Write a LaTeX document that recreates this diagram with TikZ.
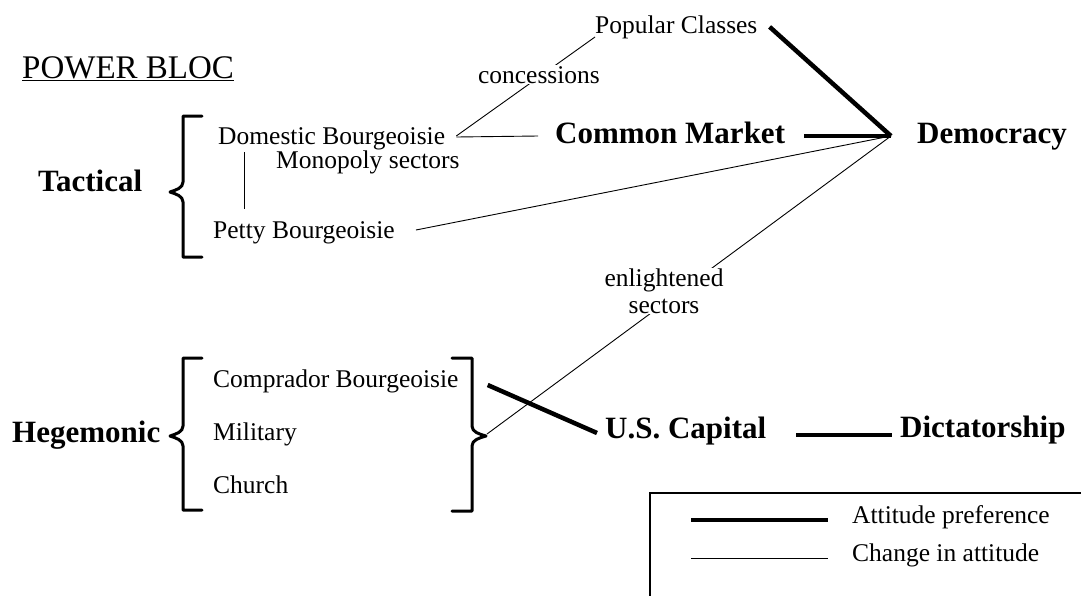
\documentclass[tikz,border=0pt]{standalone}
\usepackage{fontspec}
\setmainfont{Liberation Serif}
\begin{document}
\begin{tikzpicture}[x=1pt,y=-1pt,
  lbl/.style={font=\fontsize{25.5}{28}\selectfont, inner sep=0pt, anchor=base west},
  big/.style={font=\fontsize{31}{33}\selectfont\bfseries, inner sep=0pt, anchor=base west},
  onlabel/.style={font=\fontsize{25.5}{28}\selectfont, fill=white, inner sep=1pt, align=center},
  thickline/.style={line width=4.5pt},
  thinline/.style={line width=0.9pt},
  bracestyle/.style={line width=3pt, line cap=round, line join=round}]
\useasboundingbox (0,0) rectangle (1081,595);

% titles and labels
\node[font=\fontsize{33}{35}\selectfont, inner sep=0pt, anchor=base west] (title) at (22,78) {\underline{POWER BLOC}};
\node[big] (tac) at (38,191) {Tactical};
\node[big] (heg) at (12,442) {Hegemonic};

\node[lbl] (pc) at (595,33) {Popular Classes};
\node[lbl] (db) at (218,144) {Domestic Bourgeoisie};
\node[lbl] (mono) at (276,168) {Monopoly sectors};
\node[lbl] (pb) at (213,238) {Petty Bourgeoisie};
\node[lbl] (comp) at (213,387) {Comprador Bourgeoisie};
\node[lbl] (mil) at (213,440) {Military};
\node[lbl] (chu) at (213,493) {Church};

\node[big] (cm) at (555,143) {Common Market};
\node[big] (dem) at (917,143) {Democracy};
\node[big] (usc) at (605,438) {U.S. Capital};
\node[big] (dict) at (900,437) {Dictatorship};

\coordinate (hub) at (891,136);
\coordinate (htip) at (487,434);

% braces
\draw[bracestyle] (202,116) -- (183,116) -- (183,182) .. controls (183,188) and (176,190) .. (170,192)
  .. controls (176,194) and (183,196) .. (183,202) -- (183,257) -- (202,257);
\draw[bracestyle] (202,358) -- (183,358) -- (183,426) .. controls (183,432) and (176,434) .. (170,436)
  .. controls (176,438) and (183,440) .. (183,446) -- (183,510) -- (202,510);
\draw[bracestyle] (452,358) -- (472,358) -- (472,426) .. controls (472,432) and (479,434) .. (486,436)
  .. controls (479,438) and (472,440) .. (472,446) -- (472,511) -- (452,511);

% thick connectors (attitude preference)
\draw[thickline] ([xshift=12pt]pc.east) -- (hub);
\draw[thickline] ([xshift=19pt,yshift=7pt]cm.base east) -- (hub);
\draw[thickline] ([xshift=29pt,yshift=2pt]comp.base east) -- ([xshift=-8pt,yshift=5pt]usc.base west);
\draw[thickline] ([xshift=30pt,yshift=3pt]usc.base east) -- ([xshift=-8pt,yshift=2pt]dict.base west);

% thin connectors (change in attitude)
\draw[thinline] ([xshift=11pt,yshift=7pt]db.base east) -- ([xshift=-17pt,yshift=7pt]cm.base west);
\draw[thinline] ([xshift=11pt,yshift=8pt]db.base east) -- ([yshift=-4pt]pc.base west);
\draw[thinline] ([xshift=26pt,yshift=-8pt]db.base west) -- ([xshift=31pt,yshift=29pt]pb.base west);
\draw[thinline] ([xshift=21pt,yshift=8pt]pb.base east) -- (hub);
\draw[thinline] (htip) -- (hub);

% labels sitting on the thin lines
\node[onlabel, anchor=base] (conc) at (539,83) {concessions};
\node[onlabel, anchor=center] (enl) at (664,291) {enlightened\\[-1pt]sectors};

% legend
\draw[line width=2.5pt] (650,596) -- (650,493) -- (1082,493);
\node[lbl] (ap) at (852,523) {Attitude preference};
\node[lbl] (ca) at (852,561) {Change in attitude};
\draw[thickline] ([xshift=-161pt,yshift=3pt]ap.base west) -- ([xshift=-24pt,yshift=3pt]ap.base west);
\draw[thinline] ([xshift=-161pt,yshift=3pt]ca.base west) -- ([xshift=-24pt,yshift=3pt]ca.base west);
\end{tikzpicture}
\end{document}
